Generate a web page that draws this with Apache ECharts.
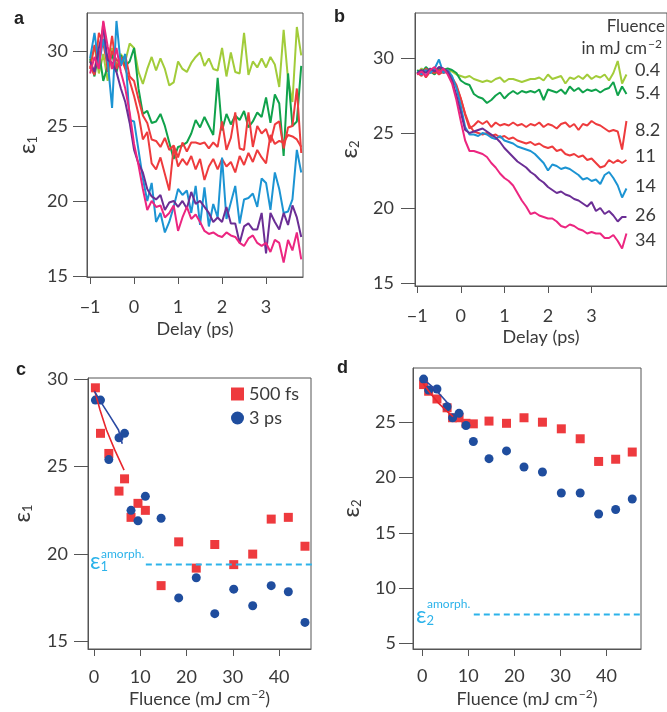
<!DOCTYPE html>
<html>
<head>
<meta charset="utf-8">
<script src="https://cdn.jsdelivr.net/npm/echarts@6/dist/echarts.min.js"></script>
<style>
  html, body { margin: 0; padding: 0; background: #fff; }
  #main { width: 667px; height: 712px; }
</style>
</head>
<body>
<div id="main"></div>
<script>
// delay (ps) shared by panels a and b
const delay = [-1.0,-0.9,-0.8,-0.7,-0.6,-0.5,-0.4,-0.3,-0.2,-0.1,
  0.0,0.1,0.2,0.3,0.4,0.5,0.6,0.7,0.8,0.9,
  1.0,1.1,1.2,1.3,1.4,1.5,1.6,1.7,1.8,1.9,
  2.0,2.1,2.2,2.3,2.4,2.5,2.6,2.7,2.8,2.9,
  3.0,3.1,3.2,3.3,3.4,3.5,3.6,3.7,3.8];

// panel a: eps1 vs delay, one array per fluence
const a_04 = [29.2,30.3,28.5,29.8,28.0,30.2,29.0,29.8,29.3,30.5, 30.2,28.6,27.8,28.8,29.6,28.7,29.5,28.8,27.7,27.9, 29.3,28.8,28.6,29.2,29.6,29.9,29.0,29.5,28.8,28.7, 30.2,28.3,29.9,28.6,28.5,31.2,28.4,29.3,28.9,29.5, 28.9,29.6,29.1,27.6,31.4,28.1,26.6,31.6,29.7];
const a_54 = [29.5,28.3,30.0,28.0,29.0,29.8,28.6,29.7,29.0,29.3, 30.2,27.5,25.8,26.0,25.2,25.3,25.8,25.0,23.9,22.8, 23.6,23.7,23.9,24.5,25.4,24.9,25.6,25.0,24.4,28.2, 24.7,25.8,25.1,25.7,25.4,26.0,24.9,25.3,25.9,25.6, 26.9,25.2,27.1,26.5,23.0,28.5,25.0,25.3,29.0];
const a_82 = [28.8,30.4,29.0,31.9,28.6,30.0,29.4,29.2,29.7,28.3, 28.0,26.8,25.7,25.2,24.1,24.0,23.6,24.2,23.4,23.7, 22.9,23.9,23.3,23.9,23.9,23.8,23.9,23.5,23.9,23.6, 25.3,23.4,24.2,25.9,23.5,23.4,25.9,23.6,25.0,24.5, 24.8,23.9,25.1,25.3,23.5,24.9,25.0,27.5,23.2];
const a_11 = [29.0,28.4,31.2,30.5,29.0,31.0,28.8,29.6,28.8,28.0, 27.0,25.8,24.1,24.6,22.5,22.1,22.9,21.8,20.7,23.6, 22.3,22.8,22.4,23.0,22.1,22.8,21.4,22.3,22.8,22.1, 22.8,22.3,22.6,21.9,23.0,22.4,23.2,22.6,23.4,22.9, 22.5,24.4,23.8,24.0,23.9,24.4,24.3,24.1,23.6];
const a_14 = [29.5,31.2,29.0,30.8,29.3,26.2,32.0,29.0,29.8,25.4, 25.3,23.4,21.5,20.0,21.2,18.6,19.2,17.9,18.6,19.6, 20.8,20.4,20.7,19.2,21.0,18.4,20.9,18.3,19.8,18.9, 22.9,18.8,19.9,21.0,18.5,20.1,20.2,20.5,19.6,21.5, 21.2,19.4,21.9,20.8,19.2,19.3,20.1,23.4,21.9];
const a_26 = [29.3,28.6,30.2,31.5,29.4,29.2,28.6,27.5,26.6,25.2, 23.4,22.5,21.9,20.8,20.3,20.1,20.4,19.4,19.9,20.0, 19.6,20.0,19.5,20.6,19.8,20.0,19.6,19.2,18.6,18.9, 18.6,19.6,18.5,18.5,17.2,18.3,18.5,18.1,18.1,19.2, 16.5,19.2,18.6,18.1,19.2,18.4,19.7,18.9,17.6];
const a_34 = [28.5,29.6,28.8,32.0,30.3,28.8,30.2,28.6,27.5,25.9, 23.8,22.4,20.8,19.4,20.0,19.6,19.7,18.9,19.2,19.7, 18.0,18.9,19.6,18.8,19.1,18.6,18.0,17.8,17.9,17.7, 17.6,17.9,17.7,17.6,17.2,17.0,17.5,17.7,17.2,17.0, 17.2,16.6,17.4,17.2,15.9,17.4,16.7,17.9,16.1];

// panel b: eps2 vs delay
const b_04 = [29.0,29.3,29.1,29.2,29.0,29.3,29.1,29.2,29.1,28.9, 28.8,28.7,28.8,28.6,28.5,28.4,28.5,28.4,28.6,28.7, 28.4,28.6,28.6,28.5,28.4,28.5,28.6,28.6,28.7,28.5, 28.9,28.6,28.7,28.8,28.3,28.7,28.6,28.8,28.6,28.9, 28.6,28.8,28.7,28.9,28.5,29.0,29.8,28.3,28.9];
const b_54 = [29.2,29.0,29.4,29.1,28.9,29.3,29.2,29.3,29.2,29.0, 28.5,28.3,28.2,27.6,27.4,27.3,27.0,27.2,27.5,27.7, 27.3,27.6,27.8,27.6,27.8,27.7,27.8,27.7,27.9,27.2, 27.9,27.8,27.7,27.9,27.6,28.1,27.8,28.0,27.7,27.9, 27.8,27.9,27.7,27.9,28.0,28.4,27.5,28.1,27.6];
const b_82 = [28.9,29.2,28.7,29.1,29.0,29.2,29.0,29.1,28.6,28.1, 27.3,26.2,25.3,25.5,25.8,25.6,25.8,25.4,25.7,25.5, 25.6,25.5,25.7,25.5,25.6,25.4,25.6,25.5,25.7,25.4, 25.6,25.5,25.3,25.6,25.7,25.4,25.6,25.2,25.6,25.5, 25.8,25.6,25.5,25.3,25.1,25.2,25.1,23.9,25.8];
const b_11 = [29.0,28.8,29.3,29.0,29.2,28.9,29.1,29.2,28.7,28.2, 27.3,26.3,25.5,25.1,25.0,24.9,25.0,24.8,24.9,24.7, 24.8,24.6,24.7,24.5,24.4,24.3,24.4,24.2,24.3,24.1, 24.0,24.1,23.8,23.9,23.6,23.5,23.6,23.4,23.5,23.2, 23.3,23.0,22.7,22.8,23.2,23.0,23.2,23.0,23.2];
const b_14 = [29.1,28.9,29.2,29.0,29.3,29.9,29.0,29.2,28.8,28.0, 26.8,25.4,24.9,24.9,24.8,25.0,24.9,24.7,24.6,24.8, 24.5,24.4,24.3,24.1,24.0,23.9,23.8,23.6,23.3,23.0, 22.5,22.9,22.8,22.6,22.7,22.6,22.4,22.2,21.9,22.0, 21.8,21.9,21.6,22.2,22.4,22.0,21.5,20.7,21.3];
const b_26 = [29.0,29.2,29.0,29.3,29.1,29.4,29.3,29.1,28.5,27.5, 26.4,25.2,25.0,25.1,25.2,25.3,25.1,24.9,24.7,24.4, 24.0,23.7,23.4,23.1,22.9,22.7,22.4,22.2,21.9,21.7, 21.4,21.2,21.0,21.1,20.9,20.8,20.6,20.5,20.3,20.1, 20.4,19.8,20.0,19.6,19.8,19.5,19.1,19.4,19.4];
const b_34 = [28.9,29.1,28.8,29.2,29.4,29.0,29.3,28.9,28.3,27.2, 25.8,24.5,23.8,23.8,23.7,23.6,23.4,23.0,22.7,22.3, 22.0,21.8,21.5,21.0,20.5,20.1,19.6,19.7,19.5,19.4, 19.3,19.3,19.1,18.8,18.7,18.9,18.8,18.6,18.5,18.3, 18.4,18.3,18.3,18.0,18.0,18.2,17.8,17.3,18.3];

const fluenceLabels = ['0.4', '5.4', '8.2', '11', '14', '26', '34'];

// panels c and d: values at 500 fs and 3 ps vs fluence (mJ cm-2)
const fluence = [0.3,1.4,3.2,5.4,6.6,8.0,9.5,11.1,14.5,18.3,22.1,26.1,30.2,34.3,38.3,42.0,45.6];
const e1_500fs = [29.5,26.9,25.75,23.6,24.3,22.1,22.9,22.5,18.2,20.7,19.2,20.55,19.4,20.0,22.0,22.1,20.45];
const e1_3ps = [28.8,28.8,25.4,26.65,26.9,22.5,21.9,23.3,22.05,17.5,18.65,16.6,18.0,17.05,18.2,17.85,16.1];
const e2_500fs = [28.4,27.8,27.1,26.3,25.4,25.4,24.9,24.85,25.1,24.9,25.4,25.0,24.4,23.5,21.45,21.65,22.3];
const e2_3ps = [28.9,27.9,28.0,26.4,25.4,25.8,24.7,23.25,21.7,22.4,20.95,20.5,18.6,18.6,16.7,17.1,18.05];

// low-fluence fits
const fitC_redX = [0.1,1.3,2.7,4.5,6.5];
const fitC_redY = [29.37,28.23,27.09,25.94,24.8];
const fitC_blueX = [0.1,1.7,3.5,5.3,6.1];
const fitC_blueY = [29.3,28.6,27.85,27.09,26.3];
const fitD_redX = [0.2,1.8,3.6,5.4,6.7];
const fitD_redY = [28.5,27.6,26.7,25.97,25.5];
const fitD_blueX = [0.5,2.5,4.3,5.8];
const fitD_blueY = [28.8,28.1,27.3,26.6];

// amorphous reference levels
const amorphX = [11.2, 48];
const e1_amorph = 19.4;
const e2_amorph = 7.6;

const FONT = 'Lato';
const TXT = '#3a3a3a';
const AX = '#555';
const lineColors = ['#a2cc3a', '#10a24b', '#ee3b3d', '#ee3b3d', '#1c94d3', '#6b2e95', '#ec2680'];
const RED = '#ee3a3e';
const BLUE = '#1f4d9e';
const CYAN = '#2cb3ea';

const zip = (xs, ys) => xs.map((x, i) => [x, ys[i]]);
const minus = v => String(v).replace('-', '\u2212');

function curve(idx, xs, ys, color, width) {
  return {
    type: 'line', xAxisIndex: idx, yAxisIndex: idx,
    data: zip(xs, ys), showSymbol: false, silent: true,
    lineStyle: { color: color, width: width || 2 }, itemStyle: { color: color }
  };
}

function xAx(idx, min, max, ticks, name, gap, margin) {
  return {
    type: 'value', gridIndex: idx, min: min, max: max,
    name: name, nameLocation: 'middle', nameGap: gap,
    nameTextStyle: { fontFamily: FONT, fontSize: 18, color: TXT,
      rich: { t: { fontFamily: FONT, fontSize: 18, color: TXT },
              sup: { fontFamily: FONT, fontSize: 12, color: TXT, padding: [0, 0, 10, 1] } } },
    axisLine: { show: true, onZero: false, lineStyle: { color: AX } },
    axisTick: { show: true, length: 7, customValues: ticks, lineStyle: { color: AX } },
    axisLabel: { customValues: ticks, margin: margin, formatter: minus,
      fontFamily: FONT, fontSize: 18, color: TXT },
    splitLine: { show: false }
  };
}

function yAx(idx, min, max, ticks, sub, gap, margin) {
  return {
    type: 'value', gridIndex: idx, min: min, max: max,
    name: '{e|\u03b5}{s|' + sub + '}', nameLocation: 'middle', nameGap: gap, nameRotate: 90,
    nameTextStyle: { rich: {
      e: { fontFamily: FONT, fontSize: 23, color: TXT },
      s: { fontFamily: FONT, fontSize: 13, color: TXT, padding: [10, 0, 0, 0] } } },
    axisLine: { show: true, onZero: false, lineStyle: { color: AX } },
    axisTick: { show: true, length: 14, customValues: ticks, lineStyle: { color: AX } },
    axisLabel: { customValues: ticks, margin: margin, formatter: minus,
      fontFamily: FONT, fontSize: 18, color: TXT },
    splitLine: { show: false }
  };
}

const aCurves = [a_04, a_54, a_82, a_11, a_14, a_26, a_34];
const bCurves = [b_04, b_54, b_82, b_11, b_14, b_26, b_34];

const series = [];
aCurves.forEach((ys, i) => series.push(curve(0, delay, ys, lineColors[i])));
bCurves.forEach((ys, i) => series.push(curve(1, delay, ys, lineColors[i])));

// c
series.push({ type: 'line', xAxisIndex: 2, yAxisIndex: 2, data: zip(amorphX, [e1_amorph, e1_amorph]),
  showSymbol: false, silent: true, lineStyle: { color: CYAN, width: 2, type: [6, 4] } });
series.push({ name: '500 fs', type: 'scatter', xAxisIndex: 2, yAxisIndex: 2, data: zip(fluence, e1_500fs),
  symbol: 'rect', symbolSize: 9, itemStyle: { color: RED, opacity: 1 } });
series.push({ name: '3 ps', type: 'scatter', xAxisIndex: 2, yAxisIndex: 2, data: zip(fluence, e1_3ps),
  symbol: 'circle', symbolSize: 9, itemStyle: { color: BLUE, opacity: 1 } });
series.push(curve(2, fitC_redX, fitC_redY, '#e8262d', 1.6));
series.push(curve(2, fitC_blueX, fitC_blueY, '#2b4aa3', 1.6));

// d
series.push({ type: 'line', xAxisIndex: 3, yAxisIndex: 3, data: zip(amorphX, [e2_amorph, e2_amorph]),
  showSymbol: false, silent: true, lineStyle: { color: CYAN, width: 2, type: [6, 4] } });
series.push({ name: '500 fs', type: 'scatter', xAxisIndex: 3, yAxisIndex: 3, data: zip(fluence, e2_500fs),
  symbol: 'rect', symbolSize: 9, itemStyle: { color: RED, opacity: 1 } });
series.push({ name: '3 ps', type: 'scatter', xAxisIndex: 3, yAxisIndex: 3, data: zip(fluence, e2_3ps),
  symbol: 'circle', symbolSize: 9, itemStyle: { color: BLUE, opacity: 1 } });
series.push(curve(3, fitD_redX, fitD_redY, '#e8262d', 1.6));
series.push(curve(3, fitD_blueX, fitD_blueY, '#2b4aa3', 1.6));

const bLabelTop = [61, 84, 121, 147, 177, 206, 231];
const graphic = fluenceLabels.map((t, i) => ({
  type: 'text', left: 635, top: bLabelTop[i],
  style: { text: t, font: '18px ' + FONT, fill: TXT }
}));
graphic.push({ type: 'text', right: 2, top: 18, style: { text: 'Fluence', font: '17px ' + FONT, fill: TXT } });
graphic.push({ type: 'text', right: 5, top: 38, style: {
  text: '{t|in mJ cm}{sup|\u22122}',
  rich: { t: { fontFamily: FONT, fontSize: 17, fill: TXT },
          sup: { fontFamily: FONT, fontSize: 12, fill: TXT, padding: [0, 0, 9, 1] } } } });
// amorphous labels
graphic.push({ type: 'text', left: 90, top: 550, style: {
  text: '{e|\u03b5}{s|1}', rich: { e: { fontFamily: FONT, fontSize: 23, fill: CYAN },
    s: { fontFamily: FONT, fontSize: 13, fill: CYAN, padding: [10, 0, 0, 0] } } } });
graphic.push({ type: 'text', left: 101, top: 548, style: { text: 'amorph.', font: '12px ' + FONT, fill: CYAN } });
graphic.push({ type: 'text', left: 416, top: 604, style: {
  text: '{e|\u03b5}{s|2}', rich: { e: { fontFamily: FONT, fontSize: 23, fill: CYAN },
    s: { fontFamily: FONT, fontSize: 13, fill: CYAN, padding: [10, 0, 0, 0] } } } });
graphic.push({ type: 'text', left: 427, top: 598, style: { text: 'amorph.', font: '12px ' + FONT, fill: CYAN } });

const titleStyle = { fontFamily: 'Liberation Sans', fontSize: 18, fontWeight: 'bold', color: '#222' };

const option = {
  animation: false,
  backgroundColor: '#fff',
  title: [
    { text: 'a', left: 9, top: 5, textStyle: titleStyle },
    { text: 'b', left: 329, top: 3, textStyle: titleStyle },
    { text: 'c', left: 11, top: 356, textStyle: titleStyle },
    { text: 'd', left: 332, top: 354, textStyle: titleStyle }
  ],
  legend: {
    data: [{ name: '500 fs', icon: 'rect' }, { name: '3 ps', icon: 'circle' }],
    orient: 'vertical', left: 226, top: 380, itemWidth: 13, itemHeight: 13, itemGap: 6,
    textStyle: { fontFamily: FONT, fontSize: 18, color: TXT }
  },
  grid: [
    { left: 87, top: 13, width: 216, height: 264, show: true, borderColor: AX, borderWidth: 1 },
    { left: 415, top: 13, width: 256, height: 273, show: true, borderColor: AX, borderWidth: 1 },
    { left: 88, top: 378, width: 223, height: 271, show: true, borderColor: AX, borderWidth: 1 },
    { left: 413, top: 368, width: 228, height: 281, show: true, borderColor: AX, borderWidth: 1 }
  ],
  xAxis: [
    xAx(0, -1.07, 3.84, [-1, 0, 1, 2, 3], 'Delay (ps)', 43, 21),
    xAx(1, -1.05, 4.73, [-1, 0, 1, 2, 3], 'Delay (ps)', 42, 21),
    xAx(2, -1.3, 46.9, [0, 10, 20, 30, 40], '{t|Fluence (mJ cm}{sup|\u22122}{t|)}', 39, 19),
    xAx(3, -2.0, 47.5, [0, 10, 20, 30, 40], '{t|Fluence (mJ cm}{sup|\u22122}{t|)}', 39, 18)
  ],
  yAxis: [
    yAx(0, 14.93, 32.53, [15, 20, 25, 30], '1', 48, 19),
    yAx(1, 14.8, 33.0, [15, 20, 25, 30], '2', 54, 21),
    yAx(2, 14.58, 30.06, [15, 20, 25, 30], '1', 54, 20),
    yAx(3, 4.49, 29.9, [5, 10, 15, 20, 25], '2', 50, 17)
  ],
  graphic: graphic,
  series: series
};

const chart = echarts.init(document.getElementById('main'), null, { renderer: 'canvas' });
chart.setOption(option);
</script>
</body>
</html>
